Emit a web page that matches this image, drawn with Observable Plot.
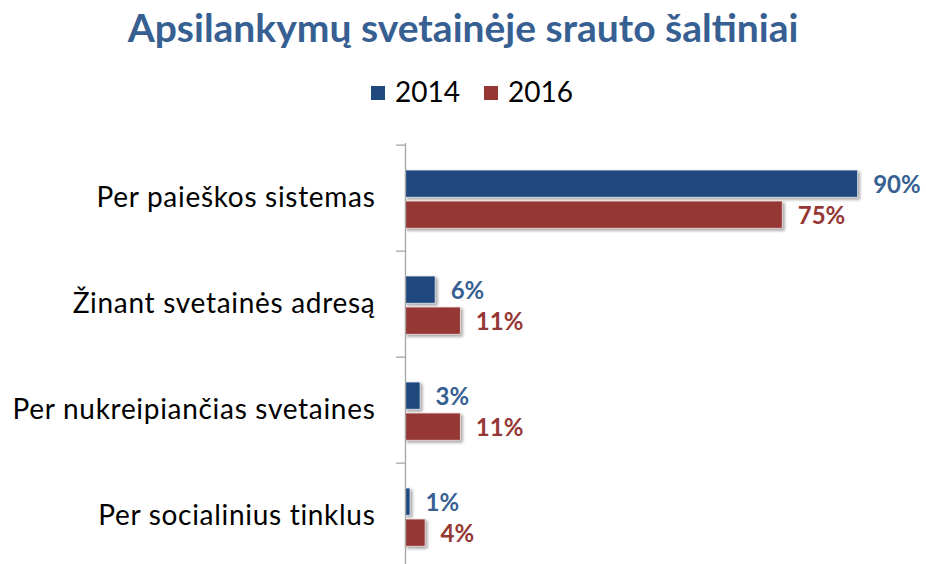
<!DOCTYPE html>
<html>
<head>
<meta charset="utf-8">
<script src="https://cdn.jsdelivr.net/npm/d3@7"></script>
<script src="https://cdn.jsdelivr.net/npm/@observablehq/plot@0.6"></script>
<style>
  html, body { margin: 0; padding: 0; background: #fff; overflow: hidden; }
  #wrap { position: relative; width: 926px; height: 564px; font-family: Lato, "Open Sans", sans-serif; }
  #title { position: absolute; left: 0; width: 926px; top: 4px; text-align: center; font-weight: 700; font-size: 39px; color: #376092; letter-spacing: 0px; }
  #legend { position: absolute; left: 9px; width: 926px; top: 74px; display: flex; justify-content: center; align-items: center; font-size: 28px; color: #000; }
  .sw { display: inline-block; width: 14px; height: 14px; margin-right: 10px; margin-top: 4px; }
  .item { display: flex; align-items: center; margin: 0 12px; }
  #chart { position: absolute; left: 0; top: 130px; }
</style>
</head>
<body>
<div id="wrap">
  <div id="title">Apsilankymų svetainėje srauto šaltiniai</div>
  <div id="legend"></div>
  <div id="chart"></div>
</div>
<script>
const categories = ["Per paieškos sistemas", "Žinant svetainės adresą", "Per nukreipiančias svetaines", "Per socialinius tinklus"];
const years = ["2014", "2016"];
const values2014 = [90, 6, 3, 1];
const values2016 = [75, 11, 11, 4];
const colors = {"2014": "#1F497D", "2016": "#953735"};
const labelColors = {"2014": "#376092", "2016": "#953735"};

const rows2014 = categories.map((c, i) => ({category: c, year: "2014", value: values2014[i]}));
const rows2016 = categories.map((c, i) => ({category: c, year: "2016", value: values2016[i]}));

// legend
const legendEl = document.getElementById("legend");
for (const y of years) {
  const it = document.createElement("div");
  it.className = "item";
  it.innerHTML = `<span class="sw" style="background:${colors[y]}"></span><span>${y}</span>`;
  legendEl.appendChild(it);
}

const plotH = 440, plotTop = 13;
const band = (plotH - plotTop) / categories.length;
const shadow = "drop-shadow(2px 2px 1.5px rgba(0,0,0,0.35))";

const plot = Plot.plot({
  width: 926,
  height: plotH,
  marginLeft: 405,
  marginRight: 18,
  marginTop: plotTop,
  marginBottom: 0,
  style: {fontFamily: "Lato, 'Open Sans', sans-serif", overflow: "visible"},
  x: {domain: [0, 100], axis: null},
  y: {domain: categories, padding: 0, label: null},
  marks: [
    Plot.barX(rows2014, {y: "category", x: "value", fill: colors["2014"], stroke: "#e8eef6", strokeWidth: 0.8, insetTop: 25, insetBottom: band - 53}),
    Plot.barX(rows2016, {y: "category", x: "value", fill: colors["2016"], stroke: "#f4e6e6", strokeWidth: 0.8, insetTop: 56, insetBottom: band - 84}),
    Plot.text(rows2014, {y: "category", x: "value", text: d => d.value + "%", dx: 15, dy: 40 - band / 2, textAnchor: "start", fill: labelColors["2014"], fontWeight: "bold", fontSize: 24}),
    Plot.text(rows2016, {y: "category", x: "value", text: d => d.value + "%", dx: 15, dy: 71 - band / 2, textAnchor: "start", fill: labelColors["2016"], fontWeight: "bold", fontSize: 24}),
    Plot.ruleX([0], {stroke: "#a6a6a6", strokeWidth: 1.3}),
    Plot.ruleY(categories, {y: d => d, x1: -1.8, x2: 0, dy: -band / 2, stroke: "#a6a6a6", strokeWidth: 1.3}),
    Plot.axisY({tickSize: 0, tickPadding: 30, fontSize: 28, fill: "#000", label: null})
  ]
});
d3.select(plot).selectAll('g[aria-label="bar"]').style("filter", shadow);
d3.select(plot).selectAll('g[aria-label="y-axis tick label"] text').style("letter-spacing", "0.7px");
document.getElementById("chart").appendChild(plot);
</script>
</body>
</html>
